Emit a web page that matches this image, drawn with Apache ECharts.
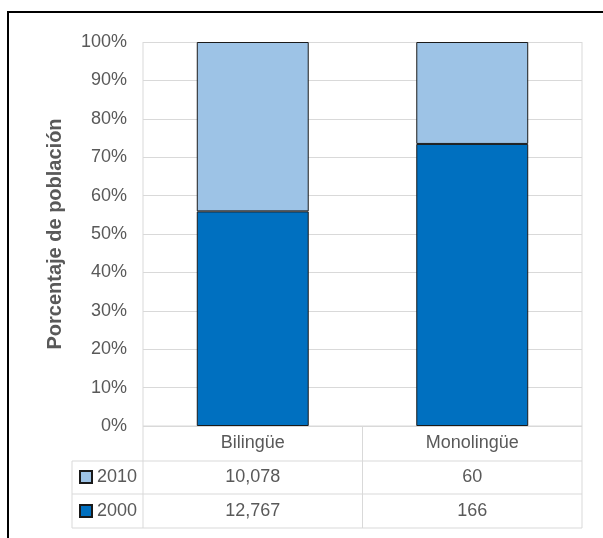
<!DOCTYPE html>
<html>
<head>
<meta charset="utf-8">
<script src="https://cdn.jsdelivr.net/npm/echarts@6/dist/echarts.min.js"></script>
<style>
  html, body { margin: 0; padding: 0; background: #fff; }
  #chart { width: 603px; height: 538px; }
</style>
</head>
<body>
<div id="chart"></div>
<script>
const categories = ['Bilingüe', 'Monolingüe']
const years = ['2010', '2000']
const values2010 = [10078, 60]
const values2000 = [12767, 166]
const yTicks = [0, 10, 20, 30, 40, 50, 60, 70, 80, 90, 100]

const FONT = "'Liberation Sans Narrow', 'Liberation Sans', Arial, sans-serif"
const TEXT = '#595959'
const LINE = '#d9d9d9'

// grid box in pixels
const G = { left: 143, right: 582, top: 42, bottom: 426 }
const rowLines = [461, 494, 528]
const tableLeft = 72

const totals = categories.map((c, i) => values2010[i] + values2000[i])
const pct2000 = values2000.map((v, i) => (v / totals[i]) * 100)
const pct2010 = values2010.map((v, i) => (v / totals[i]) * 100)
const fmt = (n) => n.toLocaleString('en-US')

const chart = echarts.init(document.getElementById('chart'), null, { renderer: 'canvas' })

const midX = (G.left + G.right) / 2
const tableLines = [
  // horizontal
  [G.left, G.bottom, G.right, G.bottom],
  [tableLeft, rowLines[0], G.right, rowLines[0]],
  [tableLeft, rowLines[1], G.right, rowLines[1]],
  [tableLeft, rowLines[2], G.right, rowLines[2]],
  // vertical
  [tableLeft, rowLines[0], tableLeft, rowLines[2]],
  [G.left, G.top, G.left, rowLines[2]],
  [midX, G.bottom, midX, rowLines[2]],
  [G.right, G.top, G.right, rowLines[2]]
]

const option = {
  animation: false,
  backgroundColor: '#fff',
  grid: {
    left: G.left,
    right: 603 - G.right,
    top: G.top,
    bottom: 538 - G.bottom,
    containLabel: false
  },
  legend: {
    data: years,
    orient: 'vertical',
    left: 79,
    top: 468,
    padding: 0,
    itemWidth: 12,
    itemHeight: 12,
    itemGap: 16,
    icon: 'rect',
    selectedMode: false,
    textStyle: { fontFamily: FONT, fontSize: 18, color: TEXT }
  },
  xAxis: {
    type: 'category',
    data: categories,
    axisLine: { show: false },
    axisTick: { show: false },
    axisLabel: {
      margin: 0,
      fontFamily: FONT,
      fontSize: 18,
      color: TEXT,
      lineHeight: 34,
      formatter: (val, idx) => [val, fmt(values2010[idx]), fmt(values2000[idx])].join('\n')
    },
    splitLine: { show: false }
  },
  yAxis: {
    type: 'value',
    min: yTicks[0],
    max: yTicks[yTicks.length - 1],
    interval: yTicks[1] - yTicks[0],
    name: 'Porcentaje de población',
    nameLocation: 'middle',
    nameGap: 78,
    nameTextStyle: { fontFamily: FONT, fontSize: 20, fontWeight: 'bold', color: TEXT },
    axisLine: { show: false },
    axisTick: { show: false },
    axisLabel: {
      margin: 16,
      fontFamily: FONT,
      fontSize: 18,
      color: TEXT,
      formatter: (v) => v + '%'
    },
    splitLine: { lineStyle: { color: LINE, width: 1 } }
  },
  series: [
    {
      name: '2000',
      type: 'bar',
      stack: 'total',
      barWidth: '51%',
      data: pct2000,
      itemStyle: { color: '#0070c0', borderColor: '#1a1a1a', borderWidth: 1 }
    },
    {
      name: '2010',
      type: 'bar',
      stack: 'total',
      barWidth: '51%',
      data: pct2010,
      itemStyle: { color: '#9dc3e6', borderColor: '#1a1a1a', borderWidth: 1 }
    }
  ],
  graphic: [
    ...tableLines.map(([x1, y1, x2, y2]) => ({
      type: 'line',
      silent: true,
      z: 0,
      shape: { x1, y1, x2, y2 },
      style: { stroke: LINE, lineWidth: 1 }
    })),
    {
      type: 'rect',
      silent: true,
      z: 10,
      shape: { x: 8, y: 12, width: 700, height: 700 },
      style: { fill: null, stroke: '#000', lineWidth: 2 }
    }
  ]
}

chart.setOption(option)
</script>
</body>
</html>
